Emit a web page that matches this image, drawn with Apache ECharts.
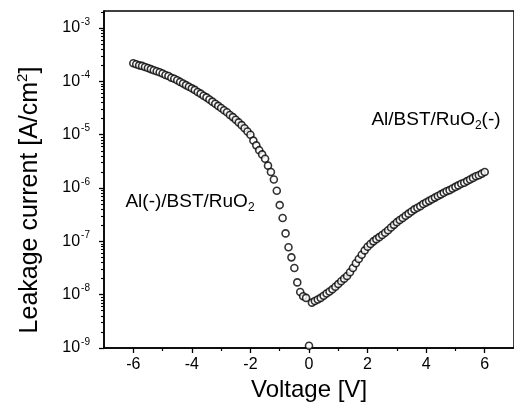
<!DOCTYPE html>
<html>
<head>
<meta charset="utf-8">
<script src="https://cdn.jsdelivr.net/npm/echarts@6/dist/echarts.min.js"></script>
<style>
  html, body { margin: 0; padding: 0; background: #fff; }
  #chart { width: 514px; height: 414px; }
</style>
</head>
<body>
<div id="chart"></div>
<script>
// Voltage [V]
const voltage = [
  -6.0,-5.9,-5.8,-5.7,-5.6,-5.5,-5.4,-5.3,-5.2,-5.1,
  -5.0,-4.9,-4.8,-4.7,-4.6,-4.5,-4.4,-4.3,-4.2,-4.1,
  -4.0,-3.9,-3.8,-3.7,-3.6,-3.5,-3.4,-3.3,-3.2,-3.1,
  -3.0,-2.9,-2.8,-2.7,-2.6,-2.5,-2.4,-2.3,-2.2,-2.1,
  -2.0,-1.9,-1.8,-1.7,-1.6,-1.5,-1.4,-1.3,-1.2,-1.1,
  -1.0,-0.9,-0.8,-0.7,-0.6,-0.5,-0.4,-0.3,-0.2,-0.1,
  0.0,
  0.1,0.2,0.3,0.4,0.5,0.6,0.7,0.8,0.9,1.0,
  1.1,1.2,1.3,1.4,1.5,1.6,1.7,1.8,1.9,2.0,
  2.1,2.2,2.3,2.4,2.5,2.6,2.7,2.8,2.9,3.0,
  3.1,3.2,3.3,3.4,3.5,3.6,3.7,3.8,3.9,4.0,
  4.1,4.2,4.3,4.4,4.5,4.6,4.7,4.8,4.9,5.0,
  5.1,5.2,5.3,5.4,5.5,5.6,5.7,5.8,5.9,6.0
];
// Leakage current [A/cm^2]
const current = [
  2.19e-4,2.09e-4,2.00e-4,1.95e-4,1.86e-4,1.78e-4,1.70e-4,1.62e-4,1.55e-4,1.48e-4,
  1.41e-4,1.32e-4,1.26e-4,1.17e-4,1.12e-4,1.05e-4,9.77e-5,9.12e-5,8.51e-5,7.94e-5,
  7.41e-5,6.92e-5,6.31e-5,5.89e-5,5.37e-5,5.01e-5,4.57e-5,4.17e-5,3.80e-5,3.47e-5,
  3.16e-5,2.88e-5,2.63e-5,2.34e-5,2.14e-5,1.91e-5,1.70e-5,1.51e-5,1.32e-5,1.15e-5,
  1.00e-5,7.76e-6,6.31e-6,5.13e-6,4.27e-6,3.55e-6,2.63e-6,2.00e-6,1.45e-6,8.91e-7,
  4.79e-7,2.75e-7,1.41e-7,7.76e-8,5.01e-8,3.16e-8,1.70e-8,1.12e-8,9.33e-9,8.71e-9,
  1.10e-9,
  7.08e-9,7.59e-9,8.13e-9,8.71e-9,9.55e-9,1.05e-8,1.15e-8,1.26e-8,1.41e-8,1.58e-8,
  1.78e-8,2.00e-8,2.24e-8,2.63e-8,3.16e-8,3.89e-8,4.68e-8,5.62e-8,6.76e-8,7.94e-8,
  8.91e-8,1.00e-7,1.10e-7,1.20e-7,1.32e-7,1.45e-7,1.62e-7,1.82e-7,2.04e-7,2.29e-7,
  2.51e-7,2.75e-7,3.02e-7,3.31e-7,3.63e-7,3.98e-7,4.27e-7,4.57e-7,5.01e-7,5.37e-7,
  5.75e-7,6.17e-7,6.61e-7,7.08e-7,7.59e-7,8.13e-7,8.71e-7,9.12e-7,9.77e-7,1.05e-6,
  1.12e-6,1.20e-6,1.26e-6,1.35e-6,1.45e-6,1.55e-6,1.66e-6,1.74e-6,1.86e-6,2.00e-6
];
// axis ticks
const xTickValues = [-6, -4, -2, 0, 2, 4, 6];
const xMinorTicks = [-5, -3, -1, 1, 3, 5];
const yDecades = [-9, -8, -7, -6, -5, -4, -3];   // exponents of 10
const yMinorFactors = [2, 3, 4, 5, 6, 7, 8, 9];

const X_MIN = -7, X_MAX = 7;
const Y_MIN = -9, Y_MAX = -2.68;

const yMinorTicks = [];
yDecades.forEach(function (d) {
  yMinorFactors.forEach(function (k) {
    const v = d + Math.log10(k);
    if (v < Y_MAX) yMinorTicks.push(v);
  });
});

const points = voltage.map(function (v, i) { return [v, Math.log10(current[i])]; });

const FONT = '"Liberation Sans", Arial, Helvetica, sans-serif';
const chart = echarts.init(document.getElementById('chart'), null, { renderer: 'canvas' });

const option = {
  backgroundColor: '#fff',
  animation: false,
  grid: {
    left: 104, top: 11, width: 413, height: 337,
    show: true, borderColor: '#000', borderWidth: 1.5, backgroundColor: 'transparent'
  },
  xAxis: [
    {
      type: 'value', min: X_MIN, max: X_MAX, gridIndex: 0,
      axisLine: { show: true, onZero: false, lineStyle: { color: '#000', width: 1.5 } },
      axisTick: { show: true, inside: false, length: 5, customValues: xTickValues, lineStyle: { color: '#000', width: 1.3 } },
      axisLabel: { customValues: xTickValues, color: '#000', fontFamily: FONT, fontSize: 16, margin: 9,
        formatter: function (v) { return String(v); } },
      splitLine: { show: false },
      name: 'Voltage [V]', nameLocation: 'middle', nameGap: 30,
      nameTextStyle: { color: '#000', fontFamily: FONT, fontSize: 24 }
    },
    {
      type: 'value', min: X_MIN, max: X_MAX, gridIndex: 0, position: 'bottom',
      axisLine: { show: false, onZero: false },
      axisTick: { show: true, inside: false, length: 3, customValues: xMinorTicks, lineStyle: { color: '#000', width: 1.2 } },
      axisLabel: { show: false },
      splitLine: { show: false }
    }
  ],
  yAxis: [
    {
      type: 'value', min: Y_MIN, max: Y_MAX, gridIndex: 0,
      axisLine: { show: true, onZero: false, lineStyle: { color: '#000', width: 1.5 } },
      axisTick: { show: true, inside: false, length: 5, customValues: yDecades, lineStyle: { color: '#000', width: 1.3 } },
      axisLabel: {
        customValues: yDecades, color: '#000', margin: 14,
        formatter: function (v) { return '{b|10}{s|' + Math.round(v) + '}'; },
        rich: {
          b: { fontFamily: FONT, fontSize: 16, color: '#000' },
          s: { fontFamily: FONT, fontSize: 10, color: '#000', padding: [0, 0, 12, 1] }
        }
      },
      splitLine: { show: false }
    },
    {
      type: 'value', min: Y_MIN, max: Y_MAX, gridIndex: 0, position: 'left',
      axisLine: { show: false, onZero: false },
      axisTick: { show: true, inside: false, length: 3, customValues: yMinorTicks, lineStyle: { color: '#000', width: 1.1 } },
      axisLabel: { show: false },
      splitLine: { show: false }
    }
  ],
  graphic: [
    {
      type: 'text', x: 30, y: 200, rotation: Math.PI / 2,
      style: {
        text: 'Leakage current [A/cm{s|2}]',
        fill: '#000', font: '25px ' + FONT,
        align: 'center', verticalAlign: 'middle',
        rich: { s: { fontFamily: FONT, fontSize: 15, fill: '#000', padding: [0, 0, 14, 0] } }
      }
    },
    {
      type: 'text', x: 436, y: 120,
      style: {
        text: 'Al/BST/RuO{u|2}(-)',
        fill: '#000', font: '19px ' + FONT,
        align: 'center', verticalAlign: 'middle',
        rich: { u: { fontFamily: FONT, fontSize: 12, fill: '#000', padding: [12, 0, 0, 0] } }
      }
    },
    {
      type: 'text', x: 190, y: 202,
      style: {
        text: 'Al(-)/BST/RuO{u|2}',
        fill: '#000', font: '19px ' + FONT,
        align: 'center', verticalAlign: 'middle',
        rich: { u: { fontFamily: FONT, fontSize: 12, fill: '#000', padding: [12, 0, 0, 0] } }
      }
    }
  ],
  series: [
    {
      type: 'scatter', xAxisIndex: 0, yAxisIndex: 0,
      data: points,
      symbol: 'circle', symbolSize: 7,
      itemStyle: { color: '#fff', borderColor: '#000', borderWidth: 1.6 }
    }
  ]
};
chart.setOption(option);
</script>
</body>
</html>
